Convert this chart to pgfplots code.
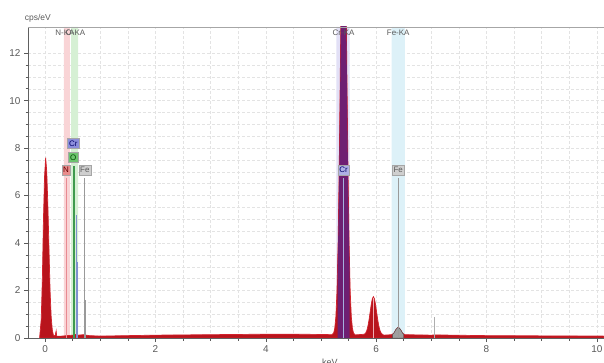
\documentclass[border=0pt]{standalone}
\usepackage{fontspec}
\setmainfont{Liberation Sans}
\usepackage{pgfplots}
\pgfplotsset{compat=1.18}
\definecolor{specfill}{HTML}{B8141C}
\definecolor{specline}{HTML}{D2222C}
\definecolor{crpurple}{HTML}{6E1F72}
\definecolor{bandN}{HTML}{F9D4D6}
\definecolor{bandO}{HTML}{D6F0D4}
\definecolor{bandCr}{HTML}{E2E0F6}
\definecolor{bandFe}{HTML}{DDF1F8}
\definecolor{lineN}{HTML}{E88A92}
\definecolor{lineO}{HTML}{3E9A4E}
\definecolor{lineCr}{HTML}{7F8FD0}
\definecolor{lineFe}{HTML}{9A9A9A}
\definecolor{boxCr}{HTML}{8C8EDC}
\definecolor{boxO}{HTML}{6CC46E}
\definecolor{boxN}{HTML}{E88C8C}
\definecolor{boxFe}{HTML}{CFCFCF}
\definecolor{txtgray}{HTML}{5A5A5A}
\begin{document}
\begin{tikzpicture}
\useasboundingbox (-28bp,-25bp) rectangle (576bp,338bp);
\begin{axis}[
  at={(0,0)}, anchor=south west, scale only axis,
  width=576bp, height=311bp,
  xmin=-0.31, xmax=10.13, ymin=0, ymax=13.1,
  axis x line*=bottom, axis y line*=left,
  xtick={0,2,...,10}, minor x tick num=3,
  ytick={0,2,...,12}, minor y tick num=3,
  grid=both,
  major grid style={densely dashed, gray!22},
  minor grid style={densely dashed, gray!22},
  tick align=outside,
  major tick length=4bp, minor tick length=2.5bp,
  every tick/.style={txtgray, line width=0.5pt},
  ticklabel style={font=\fontsize{10}{11}\selectfont, text=txtgray},
  /pgf/number format/assume math mode=true,
  axis line style={gray!75!black, line width=0.7pt},
  clip mode=individual,
]
% element bands
\addplot[fill=bandN, draw=none] coordinates {(0.34,0) (0.34,13.1) (0.45,13.1) (0.45,0)} \closedcycle;
\addplot[fill=bandO, draw=none] coordinates {(0.47,0) (0.47,13.1) (0.60,13.1) (0.60,0)} \closedcycle;
\addplot[fill=bandCr, draw=none] coordinates {(5.28,0) (5.28,13.1) (5.52,13.1) (5.52,0)} \closedcycle;
\addplot[fill=bandFe, draw=none] coordinates {(6.28,0) (6.28,13.1) (6.52,13.1) (6.52,0)} \closedcycle;
% spectrum
\addplot[fill=specfill, draw=specline, line width=0.7pt] coordinates {
(-0.10,0.00) (-0.07,0.8) (-0.05,2.5) (-0.03,5.0) (-0.01,6.8) (0.01,7.6) (0.03,7.0)
(0.05,5.6) (0.07,3.8) (0.09,2.0) (0.11,0.9) (0.13,0.35) (0.15,0.12) (0.18,0.08)
(0.20,0.30) (0.21,0.08) (0.30,0.08) (0.40,0.10) (0.50,0.12) (0.55,0.15) (0.60,0.12)
(0.70,0.14) (0.80,0.10) (1.00,0.08) (1.50,0.10) (2.00,0.12) (2.50,0.13) (3.00,0.14)
(3.50,0.15) (4.00,0.16) (4.50,0.16) (5.00,0.15) (5.20,0.14)
(5.23,0.21) (5.25,0.41) (5.27,0.90) (5.29,1.97) (5.31,3.95) (5.33,7.06) (5.35,11.1)
(5.37,15.5) (5.39,18.8) (5.41,20.1) (5.43,18.8) (5.45,15.5) (5.47,11.1) (5.49,7.06)
(5.51,3.95) (5.53,1.97) (5.55,0.90) (5.57,0.41) (5.59,0.21) (5.62,0.13)
(5.79,0.16) (5.81,0.21) (5.83,0.31) (5.85,0.49) (5.87,0.75) (5.89,1.07) (5.91,1.40)
(5.93,1.65) (5.95,1.74) (5.97,1.65) (5.99,1.40) (6.01,1.07) (6.03,0.75) (6.05,0.49)
(6.07,0.31) (6.09,0.21) (6.11,0.16) (6.14,0.12)
(6.28,0.14) (6.32,0.20) (6.36,0.36) (6.40,0.46) (6.44,0.36) (6.48,0.20) (6.52,0.14)
(7.00,0.12) (7.06,0.13) (8.00,0.10) (9.00,0.09) (10.13,0.08)
} \closedcycle;
% Cr K-alpha overlay
\addplot[fill=crpurple, draw=none] coordinates {
(5.30,2.9) (5.31,3.8) (5.33,6.9) (5.35,10.9) (5.37,15.3) (5.39,18.6) (5.41,19.9)
(5.43,18.6) (5.45,15.3) (5.47,10.9) (5.49,6.9) (5.51,3.8) (5.52,2.9)
} \closedcycle;
% Fe K-alpha overlay
\addplot[fill=gray!75, draw=gray!60!black, line width=0.4pt] coordinates {
(6.30,0.15) (6.32,0.20) (6.36,0.36) (6.40,0.46) (6.44,0.36) (6.48,0.20) (6.50,0.15)
} \closedcycle;
% line markers
\addplot[ycomb, lineN, line width=0.8pt, mark=none] coordinates {(0.392,6.75)};
\addplot[ycomb, lineO, line width=1.2pt, mark=none] coordinates {(0.525,7.25)};
\addplot[ycomb, lineCr, line width=1.0pt, mark=none] coordinates {(0.565,5.2) (0.585,3.2)};
\addplot[ycomb, lineFe, line width=0.8pt, mark=none] coordinates {(0.705,6.75) (0.725,1.6)};
\addplot[ycomb, lineCr!70!white, line width=0.8pt, mark=none] coordinates {(5.41,6.75)};
\addplot[ycomb, lineN!70!white, line width=0.6pt, mark=none] coordinates {(5.95,1.7)};
\addplot[ycomb, lineFe, line width=0.7pt, mark=none] coordinates {(6.40,6.75)};
\addplot[ycomb, lineFe!80!white, line width=0.6pt, mark=none] coordinates {(7.06,0.9)};
% label boxes
\begin{scope}[every node/.style={font=\fontsize{8}{9}\selectfont, inner sep=1.5bp, minimum height=10bp, draw=gray!70, line width=0.3pt}]
\node[fill=boxCr, text=blue!40!black] at (axis cs:0.51,8.2) {Cr};
\node[fill=boxO, text=green!30!black] at (axis cs:0.51,7.6) {O};
\node[fill=boxN, text=red!40!black] at (axis cs:0.38,7.07) {N};
\node[fill=boxFe, text=txtgray] at (axis cs:0.72,7.07) {Fe};
\node[fill=boxCr!70!white, text=blue!40!black] at (axis cs:5.41,7.07) {Cr};
\node[fill=boxFe, text=txtgray] at (axis cs:6.40,7.07) {Fe};
\end{scope}
\begin{scope}[every node/.style={font=\fontsize{8}{9}\selectfont, text=txtgray, inner sep=0.5bp, anchor=north}]
\node at (axis cs:0.36,13.0) {N-KA};
\node at (axis cs:0.55,13.0) {O-KA};
\node at (axis cs:5.41,13.0) {Cr-KA};
\node at (axis cs:6.40,13.0) {Fe-KA};
\end{scope}
\draw[gray!70, line width=0.8pt] (rel axis cs:0,1) -- (rel axis cs:1,1);
\node[font=\fontsize{8.5}{9}\selectfont, text=txtgray, anchor=south] at (rel axis cs:0.017,1) [yshift=1bp] {cps/eV};
\node[font=\fontsize{9}{10}\selectfont, text=txtgray, anchor=north] at (rel axis cs:0.524,0) [yshift=-17bp] {keV};
\end{axis}
\end{tikzpicture}
\end{document}
